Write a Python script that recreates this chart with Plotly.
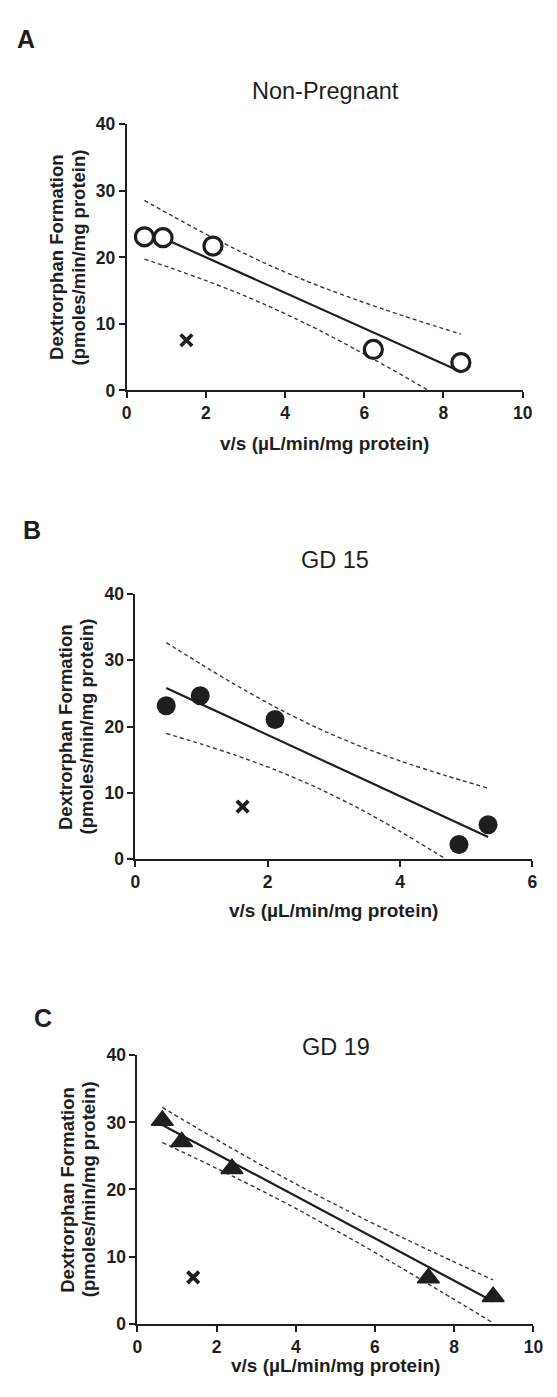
import plotly.graph_objects as go

# ---------------- data ----------------
# A: Non-Pregnant
np_x = [0.45, 0.92, 2.18, 6.23, 8.44]
np_y = [23.1, 22.96, 21.7, 6.17, 4.2]
np_out_x = [1.51]
np_out_y = [7.55]
np_fit_x = [0.45, 8.44]
np_fit_y = [24.15, 2.83]
np_up_x = [0.45, 1.2, 2.0, 2.82, 3.64, 4.5, 5.0, 5.77, 6.5, 7.2, 7.8, 8.44]
np_up_y = [28.56, 26.07, 23.50, 21.03, 18.72, 16.55, 15.38, 13.69, 12.18, 10.80, 9.66, 8.47]
np_lo_x = [0.45, 1.2, 2.0, 2.82, 3.64, 4.5, 5.0, 5.77, 6.5, 7.2, 7.62]
np_lo_y = [19.74, 18.23, 16.52, 14.63, 12.53, 10.13, 8.64, 6.21, 3.82, 1.46, 0.0]

# B: GD 15
gd15_x = [0.466, 0.98, 2.11, 4.89, 5.33]
gd15_y = [23.17, 24.66, 21.09, 2.23, 5.21]
gd15_out_x = [1.62]
gd15_out_y = [7.94]
gd15_fit_x = [0.466, 5.33]
gd15_fit_y = [25.83, 3.39]
gd15_up_x = [0.466, 1.0, 1.5, 2.1, 2.755, 3.4, 4.0, 4.7, 5.33]
gd15_up_y = [32.68, 29.37, 26.38, 23.03, 19.78, 17.04, 14.84, 12.59, 10.74]
gd15_lo_x = [0.466, 1.0, 1.5, 2.1, 2.755, 3.4, 4.0, 4.70]
gd15_lo_y = [18.98, 17.37, 15.74, 13.55, 10.77, 7.57, 4.22, 0.0]

# C: GD 19
gd19_x = [0.63, 1.12, 2.39, 7.35, 8.985]
gd19_y = [30.3, 27.1, 23.1, 6.8, 4.0]
gd19_out_x = [1.41]
gd19_out_y = [6.89]
gd19_fit_x = [0.63, 8.985]
gd19_fit_y = [29.62, 3.30]
gd19_band_x = [0.63, 1.5, 2.4, 3.2, 4.09, 5.3, 6.5, 7.7, 8.985]
gd19_up_y = [32.23, 29.18, 26.08, 23.41, 20.55, 16.85, 13.37, 10.02, 6.51]
gd19_lo_y = [27.01, 24.57, 22.0, 19.63, 16.89, 12.96, 8.89, 4.67, 0.10]

panel_letters = ["A", "B", "C"]
panel_titles = ["Non-Pregnant", "GD 15", "GD 19"]
x_ranges = [[0, 10], [0, 6], [0, 10]]
y_range = [0, 40]
y_title_lines = ["Dextrorphan Formation", "(pmoles/min/mg protein)"]
x_title = "v/s (\u00b5L/min/mg protein)"

# ---------------- layout geometry (pixels) ----------------
W, H = 557, 1397
# left, right, top, bottom of each plot area
boxes = [
    (125, 532, 116, 386),
    (134, 542, 592.5, 861.7),
    (136, 543, 1060.5, 1332.7),
]
letter_pos = [(22, 29), (28, 528), (39, 1023)]
title_y = [82, 558, 1052]
xtitle_y = [440, 914, 1375]

INK = "#1e1e1e"
FONT = "Arial, 'Liberation Sans', sans-serif"


def px(p):
    return p / W


def py(p):
    return 1 - p / H


fig = go.Figure()

panels = [
    dict(pts=(np_x, np_y), out=(np_out_x, np_out_y), fit=(np_fit_x, np_fit_y),
         up=(np_up_x, np_up_y), lo=(np_lo_x, np_lo_y), style="open"),
    dict(pts=(gd15_x, gd15_y), out=(gd15_out_x, gd15_out_y), fit=(gd15_fit_x, gd15_fit_y),
         up=(gd15_up_x, gd15_up_y), lo=(gd15_lo_x, gd15_lo_y), style="filled"),
    dict(pts=(gd19_x, gd19_y), out=(gd19_out_x, gd19_out_y), fit=(gd19_fit_x, gd19_fit_y),
         up=(gd19_band_x, gd19_up_y), lo=(gd19_band_x, gd19_lo_y), style="triangle"),
]

annotations = []
for i, p in enumerate(panels):
    xa = "x" if i == 0 else f"x{i + 1}"
    ya = "y" if i == 0 else f"y{i + 1}"
    band = dict(color="#3a3a3a", width=1.4, dash="4px,3px", shape="spline", smoothing=0.6)
    for bx, by in (p["up"], p["lo"]):
        fig.add_trace(go.Scatter(x=bx, y=by, mode="lines", line=band,
                                 xaxis=xa, yaxis=ya, showlegend=False, hoverinfo="skip"))
    fig.add_trace(go.Scatter(x=p["fit"][0], y=p["fit"][1], mode="lines",
                             line=dict(color=INK, width=2.2),
                             xaxis=xa, yaxis=ya, showlegend=False))
    if p["style"] == "open":
        mk = dict(symbol="circle", size=18, color="white", line=dict(color=INK, width=3.2))
    elif p["style"] == "filled":
        mk = dict(symbol="circle", size=19, color=INK, line=dict(width=0))
    else:
        mk = dict(symbol="triangle-up", size=19, color=INK, line=dict(color=INK, width=1.5))
    fig.add_trace(go.Scatter(x=p["pts"][0], y=p["pts"][1], mode="markers", marker=mk,
                             xaxis=xa, yaxis=ya, showlegend=False, cliponaxis=False))
    fig.add_trace(go.Scatter(x=p["out"][0], y=p["out"][1], mode="markers",
                             marker=dict(symbol="x-thin", size=11.5,
                                         line=dict(color=INK, width=3.8)),
                             xaxis=xa, yaxis=ya, showlegend=False))

    l, r, t, b = boxes[i]
    axis_common = dict(showline=True, linecolor=INK, linewidth=1.8, ticks="outside",
                       ticklen=6, tickwidth=1.8, tickcolor=INK, showgrid=False,
                       zeroline=False, fixedrange=True,
                       tickfont=dict(family=FONT, size=17.5, color=INK, weight="bold"))
    fig.update_layout({
        ("xaxis" if i == 0 else f"xaxis{i + 1}"): dict(
            axis_common, domain=[px(l), px(r)], range=x_ranges[i], dtick=2,
            anchor=ya),
        ("yaxis" if i == 0 else f"yaxis{i + 1}"): dict(
            axis_common, domain=[py(b), py(t)], range=y_range, dtick=10,
            anchor=xa),
    })

    lx, ly = letter_pos[i]
    annotations.append(dict(text=f"<b>{panel_letters[i]}</b>", x=px(lx), y=py(ly),
                            xref="paper", yref="paper", showarrow=False,
                            xanchor="center", yanchor="middle",
                            font=dict(family=FONT, size=25, color=INK)))
    cx = (l + r) / 2
    annotations.append(dict(text=panel_titles[i], x=px(cx + 1), y=py(title_y[i]),
                            xref="paper", yref="paper", showarrow=False,
                            xanchor="center", yanchor="middle",
                            font=dict(family=FONT, size=23.5, color=INK)))
    annotations.append(dict(text=f"<b>{x_title}</b>", x=px(cx), y=py(xtitle_y[i]),
                            xref="paper", yref="paper", showarrow=False,
                            xanchor="center", yanchor="middle",
                            font=dict(family=FONT, size=19, color=INK)))
    cy = (t + b) / 2
    for k, line_text in enumerate(y_title_lines):
        annotations.append(dict(text=f"<b>{line_text}</b>", x=px(l - 72 + 22 * k),
                                y=py(cy), xref="paper", yref="paper", showarrow=False,
                                textangle=-90, xanchor="center", yanchor="middle",
                                font=dict(family=FONT, size=18.5, color=INK)))

fig.update_layout(
    width=W, height=H,
    margin=dict(l=0, r=0, t=0, b=0),
    paper_bgcolor="white", plot_bgcolor="white",
    annotations=annotations,
    showlegend=False,
)

fig.write_html("out.html", config={"displayModeBar": False})
